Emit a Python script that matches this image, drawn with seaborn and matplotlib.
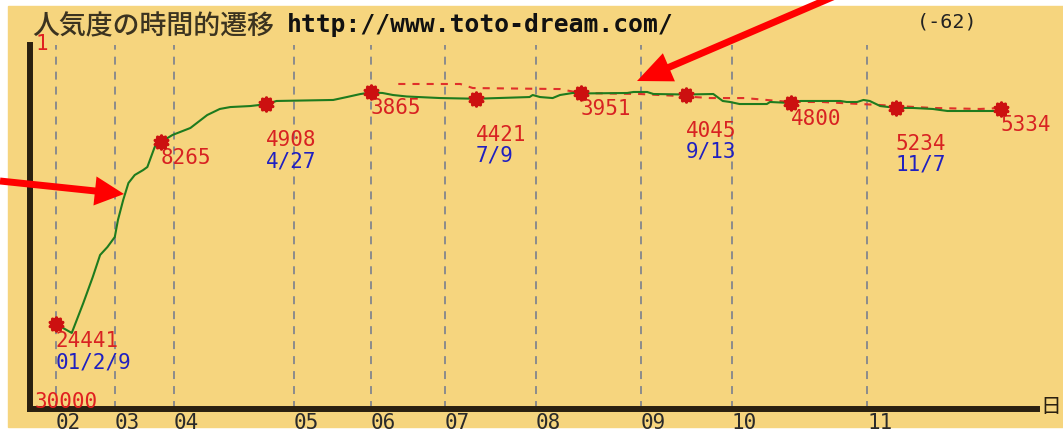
import pandas as pd
import matplotlib.pyplot as plt
from matplotlib.patches import Rectangle, FancyArrowPatch
import seaborn as sns

# 各点の順位（x は点の番号）
point_ranks = [24441, 8265, 4908, 3865, 4421, 3951, 4045, 4800, 5234, 5334]
point_dates = ['01/2/9', '', '4/27', '', '7/9', '', '9/13', '', '11/7', '']

# 緑の線（細かい推移）
line_x = [0.0, 0.15, 0.26, 0.35, 0.42, 0.49, 0.56, 0.59, 0.64, 0.69, 0.75, 0.83, 0.87, 0.94,
          1.0, 1.11, 1.28, 1.44, 1.56, 1.66, 1.85,
          2.0, 2.10, 2.64, 2.77, 2.90,
          3.0, 3.11, 3.21, 3.34, 3.66,
          4.0, 4.51, 4.54, 4.61, 4.73, 4.80, 4.92,
          5.0, 5.44, 5.50, 5.63, 5.69,
          6.0, 6.26, 6.35, 6.42, 6.51, 6.77, 6.80,
          7.0, 7.09, 7.47, 7.53, 7.63, 7.69, 7.75, 7.85,
          8.0, 8.16, 8.35, 8.49, 8.96, 9.0]
line_rank = [24441, 25240, 22580, 20270, 18310, 17600, 16710, 15200, 13420, 11910, 11200, 10760, 10490, 8710,
             8265, 7640, 7020, 5870, 5330, 5160, 5070,
             4908, 4620, 4530, 4270, 4000,
             3865, 3910, 4090, 4220, 4360,
             4421, 4270, 4090, 4270, 4360, 4090, 3910,
             3951, 3910, 3820, 3820, 4000,
             4045, 4000, 4620, 4710, 4890, 4890, 4710,
             4800, 4620, 4620, 4710, 4710, 4530, 4620, 5070,
             5234, 5240, 5330, 5510, 5510, 5334]

# 赤の破線
avg_x = [3.26, 3.85, 3.91, 3.97, 4.80, 4.99, 5.56, 5.94, 6.23, 6.56, 6.99, 7.30, 7.47, 7.66,
         7.85, 8.01, 8.35, 8.80, 9.0]
avg_rank = [3110, 3110, 3290, 3470, 3560, 3910, 4000, 4180, 4360, 4360, 4710, 4710, 4800, 4890,
            4980, 5070, 5240, 5330, 5244]

month_x = [0, 0.562, 1.124, 2.267, 3.0, 3.705, 4.571, 5.571, 6.438, 7.724]
month_labels = ['02', '03', '04', '05', '06', '07', '08', '09', '10', '11']

W, H = 1063, 430


def fx(px):
    return px / W


def fy(py):
    return 1 - py / H


sns.set_style('white')
plt.rcParams['font.family'] = ['DejaVu Sans Mono', 'Noto Sans CJK JP']

fig = plt.figure(figsize=(W / 100, H / 100), dpi=100)
fig.patch.set_facecolor('white')
fig.add_artist(Rectangle((fx(8), fy(427)), fx(1063) - fx(8), fy(6) - fy(427),
                         transform=fig.transFigure, color='#F6D57E', zorder=-1))

ax = fig.add_axes([fx(30), fy(409), fx(1037) - fx(30), fy(45) - fy(409)])
ax.set_facecolor('none')

avg_df = pd.DataFrame({'x': avg_x, 'rank': avg_rank})
line_df = pd.DataFrame({'x': line_x, 'rank': line_rank})
pts_df = pd.DataFrame({'x': range(len(point_ranks)), 'rank': point_ranks})

sns.lineplot(data=avg_df, x='x', y='rank', ax=ax, color='#E0302A', lw=1.5,
             dashes=False, estimator=None, sort=False)
ax.lines[-1].set_dashes((3.4, 3.4))
sns.lineplot(data=line_df, x='x', y='rank', ax=ax, color='#1E7B1E', lw=1.5,
             estimator=None, sort=False)
sns.scatterplot(data=pts_df, x='x', y='rank', ax=ax, color='#CC1010', marker=(10, 1, 0),
                s=90, linewidth=2.5, edgecolor='#CC1010', zorder=5)

for i, (v, d) in enumerate(zip(point_ranks, point_dates)):
    if d and i > 0:
        off_v, off_d = 42, 63
    elif d:
        off_v, off_d = 23, 45
    else:
        off_v, off_d = 22, 0
    ax.annotate(str(v), xy=(i, v), xytext=(0, -off_v * 0.72), textcoords='offset points',
                ha='left', va='baseline', color='#D82222', fontsize=15)
    if d:
        ax.annotate(d, xy=(i, v), xytext=(0, -off_d * 0.72), textcoords='offset points',
                    ha='left', va='baseline', color='#2020C0', fontsize=15)

ax.set_xlim(-0.2476, 9.343)
ax.set_ylim(32000, -356)
ax.set_xlabel('')
ax.set_ylabel('')
ax.set_yticks([])
ax.set_xticks(month_x, month_labels)
for lbl in ax.get_xticklabels():
    lbl.set_ha('left')
ax.tick_params(axis='x', length=0, pad=3, labelsize=15, labelcolor='#2A2A2A')
ax.grid(axis='x', color='#8C8C8C', linestyle=(0, (4.1, 3.6)), lw=1.4)
ax.grid(axis='y', visible=False)
for side in ['top', 'right']:
    ax.spines[side].set_visible(False)
for side in ['left', 'bottom']:
    ax.spines[side].set_linewidth(4.3)
    ax.spines[side].set_color('#2A2010')

fig.text(fx(32), fy(34), '人気度の時間的遷移', fontsize=19.4, family=['Noto Sans CJK JP'],
         weight='medium', color='#3B3320', va='baseline')
fig.text(fx(287), fy(32), 'http://www.toto-dream.com/', fontsize=17.7, weight='bold',
         color='#111111', va='baseline')
fig.text(fx(917), fy(28), '(-62)', fontsize=14.5, color='#222222', va='baseline')
fig.text(fx(35), fy(50), '1', fontsize=15, color='#E02020', va='baseline')
fig.text(fx(35), fy(408), '30000', fontsize=15, color='#E02020', va='baseline')
fig.text(fx(1040), fy(413), '日', fontsize=15, family=['Noto Sans CJK JP'],
         color='#2A2010', va='baseline')

arrow1 = FancyArrowPatch((fx(0), fy(181)), (fx(124), fy(194)), transform=fig.transFigure,
                         arrowstyle='simple,head_length=21,head_width=21,tail_width=5',
                         mutation_scale=1, color='#FF0000', lw=0, shrinkA=0, shrinkB=0, zorder=10)
arrow2 = FancyArrowPatch((fx(835), fy(-4)), (fx(637), fy(81)), transform=fig.transFigure,
                         arrowstyle='simple,head_length=25,head_width=22,tail_width=5',
                         mutation_scale=1, color='#FF0000', lw=0, shrinkA=0, shrinkB=0, zorder=10)
fig.add_artist(arrow1)
fig.add_artist(arrow2)

fig.savefig('out.png', dpi=100)
